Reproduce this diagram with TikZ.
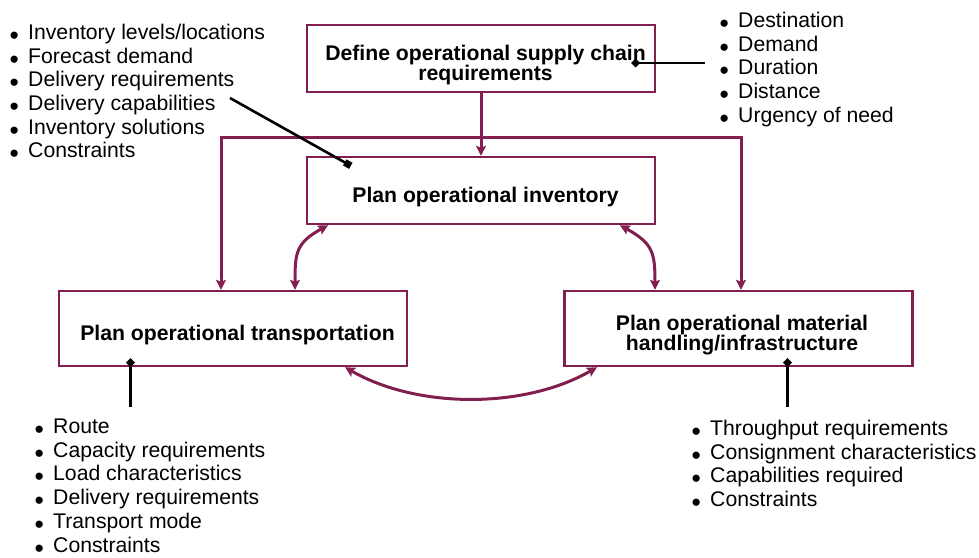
\documentclass[tikz,border=0pt]{standalone}
\usepackage{fontspec}
\setmainfont{Liberation Sans}
\usetikzlibrary{arrows.meta,positioning,calc}
\definecolor{plum}{RGB}{130,30,80}
\tikzset{
  >={Stealth[length=10pt,width=10pt,inset=2pt]},
  box/.style={draw=plum,line width=2.4pt,minimum width=348pt,minimum height=#1,
    align=center,inner sep=0pt,text height=28.5pt,font=\fontsize{21.2}{20}\selectfont\bfseries},
  box/.default=67pt,
  two lines/.style={text height=48.5pt},
  flow/.style={->,line width=3pt,draw=plum},
  pin/.style={-{Diamond[length=9pt,width=9pt]},line width=2.6pt,draw=black},
  list/.style={anchor=north west,align=left,inner sep=0pt,
    font=\fontsize{21.2}{23.7}\selectfont},
}
\newcommand{\itm}{\makebox[18.5pt][l]{\smash{\raisebox{-5pt}{\scalebox{1.25}{•}}}}}

\begin{document}
\begin{tikzpicture}[x=1pt,y=-1pt]
  \useasboundingbox (0,0) rectangle (979,557);
  % boxes
  \node[box,two lines] (define) at (481,58.5) {\hspace*{9pt}Define operational supply chain\\\hspace*{9pt}requirements};
  \node[box] (inv) at (481,190.5) {\hspace*{9pt}Plan operational inventory};
  \node[box=75pt] (trans) at (233,328.5) {\hspace*{9pt}Plan operational transportation};
  \node[box=75pt,two lines] (mat) at (738.5,328.5) {\hspace*{7pt}Plan operational material\\\hspace*{7pt}handling/infrastructure};
  % lists
  \node[list] (invlist) at (9.5,23.8) {\itm Inventory levels/locations\\\itm Forecast demand\\
    \itm Delivery requirements\\\itm Delivery capabilities\\\itm Inventory solutions\\\itm Constraints};
  \node[list] (reqlist) at (719.5,11.8) {\itm Destination\\\itm Demand\\\itm Duration\\
    \itm Distance\\\itm Urgency of need};
  \node[list] (translist) at (34.5,418.8) {\itm Route\\\itm Capacity requirements\\
    \itm Load characteristics\\\itm Delivery requirements\\\itm Transport mode\\\itm Constraints};
  \node[list] (matlist) at (691.5,419.8) {\itm Throughput requirements\\
    \itm Consignment characteristics\\\itm Capabilities required\\\itm Constraints};
  % flows
  \draw[flow] (define) -- (inv);
  \coordinate (busl) at (221,137);
  \coordinate (busr) at (741,137);
  \draw[flow,<->] (busl |- trans.north) -- (busl) -- (busr) -- (busr |- mat.north);
  \draw[flow,<->] ([xshift=-153pt]inv.south) to[out=209,in=90,looseness=1.3] ([xshift=62pt]trans.north);
  \draw[flow,<->] ([xshift=139pt]inv.south) to[out=-29,in=90,looseness=1.3] ([xshift=-83.5pt]mat.north);
  \draw[flow,<->] ([xshift=112pt]trans.south) to[bend right=30,looseness=.85] ([xshift=-141.5pt]mat.south);
  % pins
  \coordinate (invpin) at (230,98);
  \coordinate (reqpin) at (705,63);
  \coordinate (transpin) at (130.5,407);
  \coordinate (matpin) at (787.5,407);
  \draw[pin,-{Square[length=7pt,width=7pt]}] (invpin) -- ([shift={(45pt,-10pt)}]inv.north west);
  \draw[pin] (reqpin) -- ([shift={(-25pt,-4.5pt)}]define.east);
  \draw[pin] (transpin) -- ([yshift=9pt]transpin |- trans.south);
  \draw[pin] (matpin) -- ([yshift=9pt]matpin |- mat.south);
\end{tikzpicture}
\end{document}
